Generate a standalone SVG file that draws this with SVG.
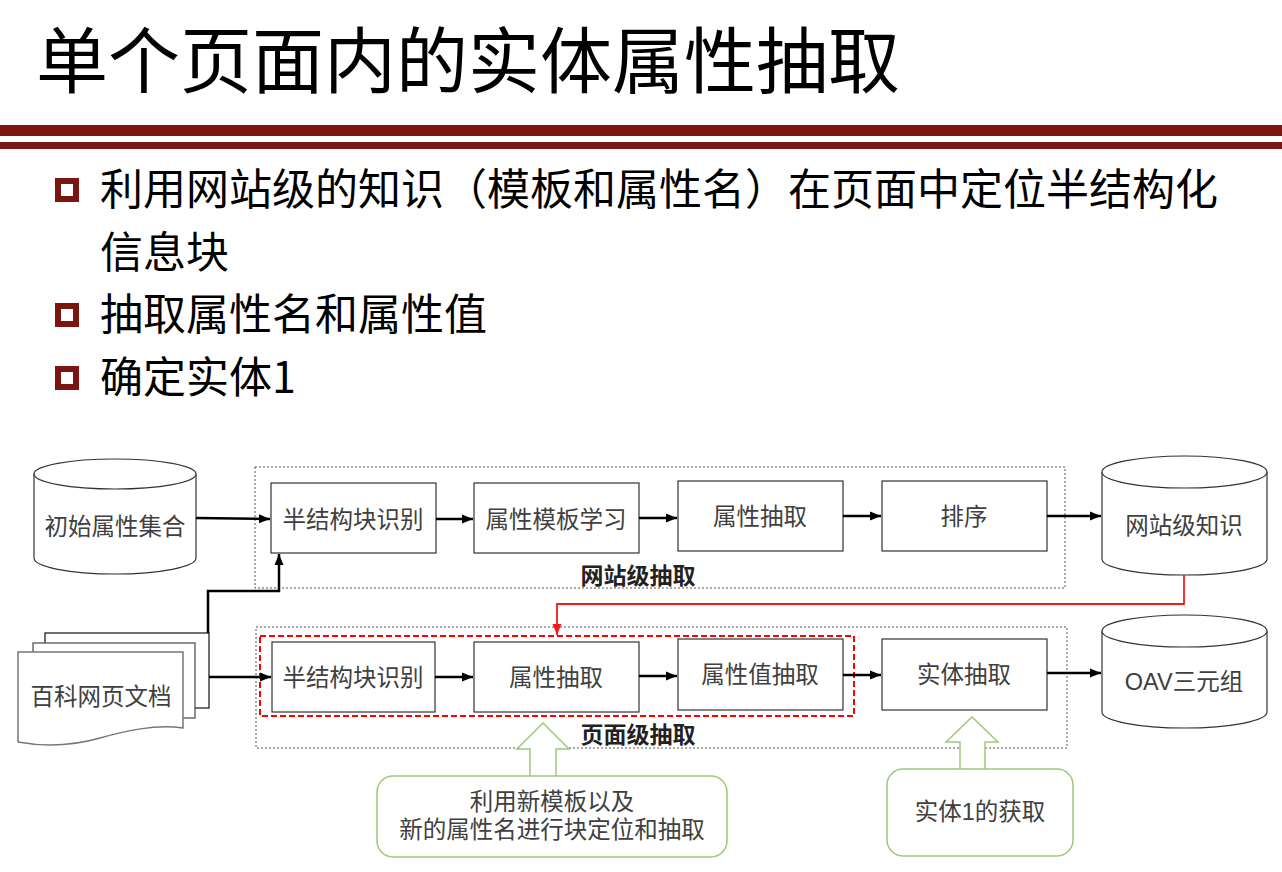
<svg xmlns="http://www.w3.org/2000/svg" width="1282" height="872" viewBox="0 0 1282 872">
<defs>
<style>
.cjk{font-family:"Noto Sans CJK SC","Liberation Sans",sans-serif;}
.title{font-size:72px;fill:#000;}
.bul{font-size:43px;fill:#000;}
.node{fill:#fff;stroke:#333;stroke-width:1.2;}
.nt{font-size:23.5px;fill:#404040;text-anchor:middle;font-family:"Noto Sans CJK SC","Liberation Sans",sans-serif;}
.ct{font-size:23.5px;fill:#404040;text-anchor:middle;font-family:"Liberation Sans","Noto Sans CJK SC",sans-serif;}
.lbl{font-size:23px;font-weight:bold;fill:#222;text-anchor:middle;font-family:"Noto Sans CJK SC",sans-serif;}
.grp{fill:none;stroke:#555;stroke-width:1;stroke-dasharray:2,2;}
.cyl{fill:#fff;stroke:#333;stroke-width:1.2;}
.arr{fill:none;stroke:#000;stroke-width:2.5;marker-end:url(#ah);}
.red{fill:none;stroke:#ee1c1c;stroke-width:1.8;}
.green{fill:#fff;stroke:#9cc97c;stroke-width:1.5;}
.sq{fill:none;stroke:#7a1510;stroke-width:6;}
</style>
<marker id="ah" markerUnits="userSpaceOnUse" markerWidth="12" markerHeight="10" refX="11" refY="5" orient="auto">
<path d="M0,0.5 L11,5 L0,9.5 Z" fill="#000"/>
</marker>
<marker id="ahr" markerUnits="userSpaceOnUse" markerWidth="12" markerHeight="10" refX="11" refY="5" orient="auto">
<path d="M0,0.5 L11,5 L0,9.5 Z" fill="#ee1c1c"/>
</marker>
</defs>
<rect width="1282" height="872" fill="#fff"/>

<g id="header">
<text class="cjk title" x="36" y="87">单个页面内的实体属性抽取</text>
<rect x="0" y="125" width="1282" height="11" fill="#7a1510"/>
<rect x="0" y="142" width="1282" height="7" fill="#7a1510"/>
</g>

<g id="bullets">
<rect class="sq" x="58" y="181" width="18" height="18"/>
<text class="cjk bul" x="100" y="205">利用网站级的知识（模板和属性名）在页面中定位半结构化</text>
<text class="cjk bul" x="100" y="268">信息块</text>
<rect class="sq" x="58" y="306" width="18" height="18"/>
<text class="cjk bul" x="100" y="330">抽取属性名和属性值</text>
<rect class="sq" x="58" y="369" width="18" height="18"/>
<text class="cjk bul" x="100" y="393">确定实体1</text>
</g>

<g id="group-site">
<rect class="grp" x="255" y="467" width="810" height="121"/>
<text class="lbl" x="638" y="584">网站级抽取</text>
</g>
<g id="group-page">
<rect class="grp" x="256" y="627" width="811" height="121"/>
<text class="lbl" x="638" y="743">页面级抽取</text>
</g>
<g id="group-red">
<rect x="260" y="636" width="594" height="80" fill="none" stroke="#ff0000" stroke-width="2" stroke-dasharray="6,3"/>
</g>

<g id="cyl-init">
<path class="cyl" d="M34,474 A81,15 0 0 1 196,474 V558 A81,16 0 0 1 34,558 Z"/>
<path class="cyl" d="M34,474 A81,15 0 0 0 196,474"/>
<text class="ct" x="115" y="535">初始属性集合</text>
</g>

<g id="cyl-site">
<path class="cyl" d="M1102,472 A82.5,16 0 0 1 1267,472 V559 A82.5,16 0 0 1 1102,559 Z"/>
<path class="cyl" d="M1102,472 A82.5,16 0 0 0 1267,472"/>
<text class="ct" x="1184" y="534">网站级知识</text>
</g>

<g id="cyl-oav">
<path class="cyl" d="M1102,631 A82.5,16 0 0 1 1267,631 V712 A82.5,16 0 0 1 1102,712 Z"/>
<path class="cyl" d="M1102,631 A82.5,16 0 0 0 1267,631"/>
<text class="ct" x="1184" y="690">OAV三元组</text>
</g>

<g id="doc">
<rect x="45" y="633" width="164" height="75" fill="#fff" stroke="#222" stroke-width="1.3"/>
<rect x="33" y="643" width="162" height="75" fill="#fff" stroke="#555" stroke-width="1.3"/>
<path d="M18,652 H183 V728 C155,724 125,731 100,738 C72,746 45,747 18,742 Z" fill="#fff" stroke="#777" stroke-width="1.5"/>
<text class="ct" x="101" y="705">百科网页文档</text>
</g>

<g id="s1"><rect class="node" x="271" y="483" width="165" height="70"/><text class="nt" x="353" y="528">半结构块识别</text></g>
<g id="s2"><rect class="node" x="474" y="483" width="165" height="70"/><text class="nt" x="556" y="528">属性模板学习</text></g>
<g id="s3"><rect class="node" x="678" y="481" width="165" height="70"/><text class="nt" x="760" y="525">属性抽取</text></g>
<g id="s4"><rect class="node" x="882" y="481" width="165" height="70"/><text class="nt" x="964" y="525">排序</text></g>

<g id="p1"><rect class="node" x="272" y="642" width="163" height="70"/><text class="nt" x="353" y="686">半结构块识别</text></g>
<g id="p2"><rect class="node" x="474" y="642" width="165" height="70"/><text class="nt" x="556" y="686">属性抽取</text></g>
<g id="p3"><rect class="node" x="678" y="639" width="165" height="71"/><text class="nt" x="760" y="683">属性值抽取</text></g>
<g id="p4"><rect class="node" x="882" y="639" width="165" height="71"/><text class="nt" x="964" y="683">实体抽取</text></g>

<g id="note1">
<path class="green" d="M530,776 V749 H517 L543,723 L569,749 H556 V776"/>
<rect class="green" x="377" y="776" width="350" height="81" rx="16"/>
<text class="ct" x="552" y="810">利用新模板以及</text>
<text class="ct" x="552" y="838">新的属性名进行块定位和抽取</text>
</g>

<g id="note2">
<path class="green" d="M960,769 V742 H946 L972,717 L998,742 H985 V769"/>
<rect class="green" x="887" y="769" width="186" height="87" rx="16"/>
<text class="ct" x="980" y="820">实体1的获取</text>
</g>

<g id="connectors">
<path class="arr" d="M196,518 L270,519"/>
<path class="arr" d="M436,519 L473,519"/>
<path class="arr" d="M639,518 L677,518"/>
<path class="arr" d="M843,516 L881,516"/>
<path class="arr" d="M1047,516 L1101,516"/>
<path class="arr" d="M208,633 V591 H279 V554"/>
<path class="arr" d="M209,677 L271,677"/>
<path class="arr" d="M435,677 L473,677"/>
<path class="arr" d="M639,676 L677,676"/>
<path class="arr" d="M843,675 L881,675"/>
<path class="arr" d="M1047,673 L1101,673"/>
<path class="red" marker-end="url(#ahr)" d="M1184,575 V604 H557 V635"/>
</g>
</svg>
